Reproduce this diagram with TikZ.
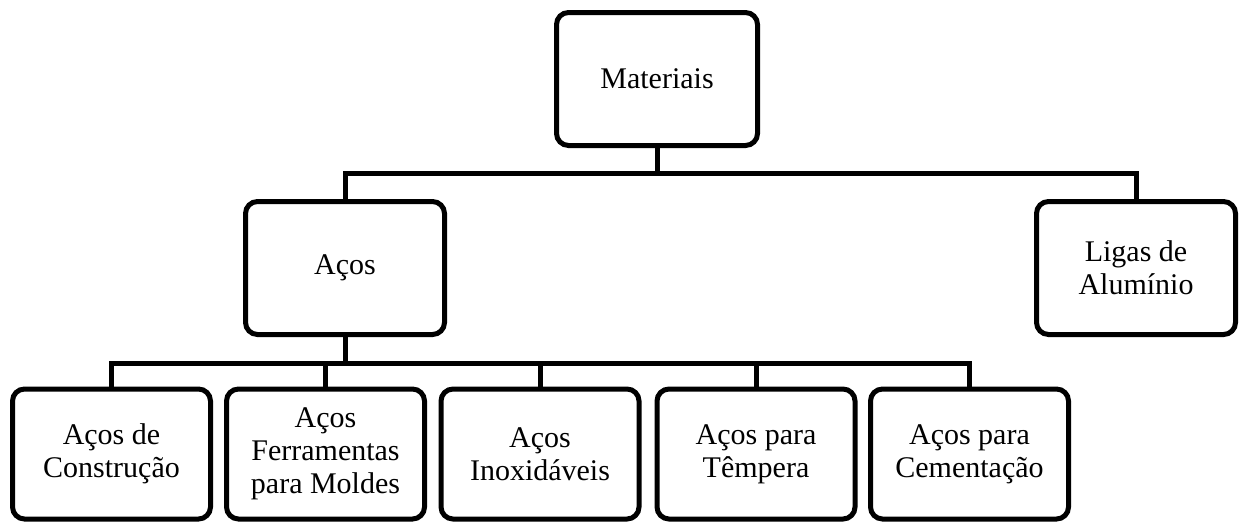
\documentclass[tikz,border=0pt]{standalone}
\usepackage{fontspec}
\setmainfont{Liberation Serif}
\begin{document}
\begin{tikzpicture}[x=1pt,y=-1pt,
  box/.style={draw=black, line width=5pt, rounded corners=12pt, fill=white,
    align=center, inner sep=0pt, font=\fontsize{30}{33}\selectfont},
  topbox/.style={box, minimum width=201pt, minimum height=133pt},
  midbox/.style={box, minimum width=199pt, minimum height=133pt},
  lowbox/.style={box, minimum width=198pt, minimum height=130pt},
  conn/.style={draw=black, line width=5pt, line join=miter}]
\useasboundingbox (0,0) rectangle (1239,522);
\node[topbox] (mat) at (657,79) {Materiais};
\node[midbox] (acos) at (345,268) {Aços};
\node[midbox] (ligas) at (1136,268) {Ligas de\\Alumínio};
\node[lowbox] (b1) at (111.5,454) {Aços de\\Construção};
\node[lowbox] (b2) at (325.5,454) {Aços\\Ferramentas\\para Moldes};
\node[lowbox] (b3) at (540,454) {Aços\\Inoxidáveis};
\node[lowbox] (b4) at (756,454) {Aços para\\Têmpera};
\node[lowbox] (b5) at (969.5,454) {Aços para\\Cementação};
\coordinate (bus1) at (657,173);
\coordinate (bus2) at (345,363);
\draw[conn] (mat.south) -- (bus1);
\draw[conn] (acos.north) |- (bus1) -| (ligas.north);
\draw[conn] (acos.south) -- (bus2);
\draw[conn] (b1.north) |- (bus2) -| (b5.north);
\draw[conn] (b2.north) -- (b2.north |- bus2);
\draw[conn] (b3.north) -- (b3.north |- bus2);
\draw[conn] (b4.north) -- (b4.north |- bus2);
\end{tikzpicture}
\end{document}
